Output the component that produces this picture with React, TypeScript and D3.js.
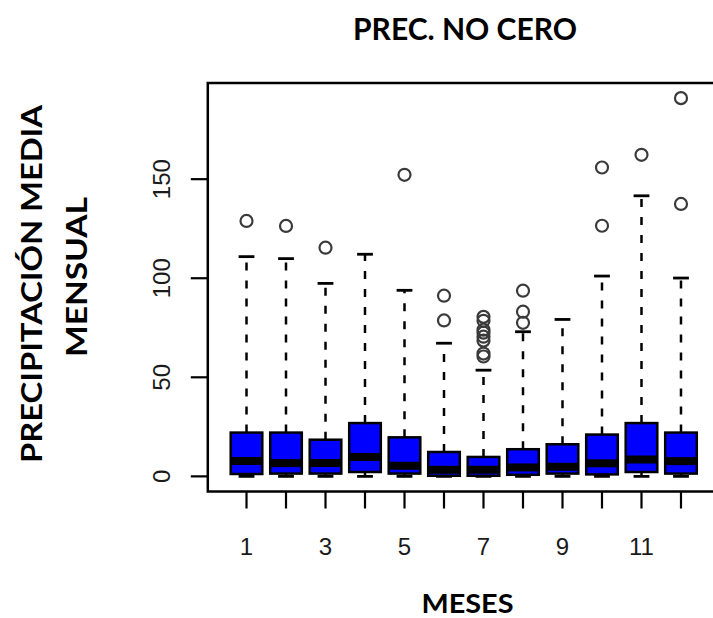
import React from "react";
import * as d3 from "d3";

const months = [1, 2, 3, 4, 5, 6, 7, 8, 9, 10, 11, 12];
const whiskerLow = [0, 0, 0, 0, 0, 0, 0, 0, 0, 0, 0, 0];
const q1 = [1.2, 1.4, 1.4, 2.2, 1.4, 0.3, 0.3, 0.8, 1.4, 1.0, 2.2, 1.4];
const medians = [7.7, 6.7, 6.7, 9.8, 5.3, 3.3, 3.3, 4.5, 4.9, 6.6, 8.5, 7.7];
const q3 = [22.1, 22.1, 18.5, 26.9, 19.7, 12.3, 9.8, 13.7, 16.2, 21.1, 26.9, 22.1];
const whiskerHigh = [110.9, 109.9, 97.4, 112.1, 93.9, 67.2, 53.6, 73.0, 79.2, 101.1, 141.6, 100.1];
const outliers: number[][] = [
  [128.9],
  [126.4],
  [115.4],
  [],
  [152.2],
  [91.2, 78.7],
  [80.5, 78.5, 74, 72.5, 70.5, 68.5, 62, 60.5],
  [93.7, 83.1, 77.5],
  [],
  [155.9, 126.5],
  [162.3],
  [190.9, 137.5],
];
const yTicks = [0, 50, 100, 150];
const xTickLabels = ["1", "", "3", "", "5", "", "7", "", "9", "", "11", ""];

const W = 713;
const H = 618;
const left = 207.8;
const right = 719.7;
const top = 83;
const bottom = 491.5;

export default function App() {
  const n = months.length;
  const xPad = 0.04 * n;
  const x = d3.scaleLinear().domain([0.5 - xPad, n + 0.5 + xPad]).range([left, right]);
  const allVals = [...whiskerLow, ...whiskerHigh, ...outliers.flat()];
  const yMin = d3.min(allVals)!;
  const yMax = d3.max(allVals)!;
  const pad = 0.04 * (yMax - yMin);
  const y = d3.scaleLinear().domain([yMin - pad, yMax + pad]).range([bottom, top]);
  const boxW = 0.8 * (x(2) - x(1));
  const stapleW = boxW * 0.5;
  const tickLen = 17;

  return (
    <svg width={W} height={H} style={{ position: "absolute", left: 0, top: 0, background: "#fff" }}>
      <rect x={0} y={0} width={W} height={H} fill="#fff" />
      {/* title */}
      <text
        x={465}
        y={40}
        textAnchor="middle"
        fontFamily="Lato, 'Open Sans', sans-serif"
        fontWeight={700}
        fontSize={30}
        textLength={224}
        lengthAdjust="spacingAndGlyphs"
        fill="#000"
      >
        PREC. NO CERO
      </text>
      {/* boxes */}
      {months.map((m, i) => {
        const cx = x(m);
        return (
          <g key={m}>
            <line x1={cx} x2={cx} y1={y(q3[i])} y2={y(whiskerHigh[i])} stroke="#000" strokeWidth={2.5} strokeDasharray="8,10" />
            <line x1={cx} x2={cx} y1={y(q1[i])} y2={y(whiskerLow[i])} stroke="#000" strokeWidth={2.5} strokeDasharray="8,10" />
            <line x1={cx - stapleW / 2} x2={cx + stapleW / 2} y1={y(whiskerHigh[i])} y2={y(whiskerHigh[i])} stroke="#000" strokeWidth={2.8} />
            <line x1={cx - stapleW / 2} x2={cx + stapleW / 2} y1={y(whiskerLow[i])} y2={y(whiskerLow[i])} stroke="#000" strokeWidth={2.8} />
            <rect
              x={cx - boxW / 2}
              y={y(q3[i])}
              width={boxW}
              height={y(q1[i]) - y(q3[i])}
              fill="#0000ff"
              stroke="#000"
              strokeWidth={2.5}
            />
            <line x1={cx - boxW / 2} x2={cx + boxW / 2} y1={y(medians[i])} y2={y(medians[i])} stroke="#000" strokeWidth={8} />
            {outliers[i].map((v, j) => (
              <circle key={j} cx={cx} cy={y(v)} r={6} fill="none" stroke="#3a3a3a" strokeWidth={2.2} />
            ))}
          </g>
        );
      })}
      {/* frame */}
      <rect x={left} y={top} width={right - left} height={bottom - top} fill="none" stroke="#000" strokeWidth={2.5} />
      {/* y axis */}
      {yTicks.map((t) => (
        <g key={t}>
          <line x1={left - tickLen} x2={left} y1={y(t)} y2={y(t)} stroke="#000" strokeWidth={2.2} />
          <text
            transform={`translate(170,${y(t)}) rotate(-90)`}
            textAnchor="middle"
            fontFamily="'Liberation Sans', Arial, sans-serif"
            fontSize={24}
            fill="#1a1a1a"
          >
            {t}
          </text>
        </g>
      ))}
      {/* x axis */}
      {months.map((m, i) => (
        <g key={m}>
          <line x1={x(m)} x2={x(m)} y1={bottom} y2={bottom + tickLen} stroke="#000" strokeWidth={2.2} />
          {xTickLabels[i] && (
            <text x={x(m)} y={555} textAnchor="middle" fontFamily="'Liberation Sans', Arial, sans-serif" fontSize={24} fill="#1a1a1a">
              {xTickLabels[i]}
            </text>
          )}
        </g>
      ))}
      {/* axis labels */}
      <text
        x={467.5}
        y={613}
        textAnchor="middle"
        fontFamily="Lato, 'Open Sans', sans-serif"
        fontWeight={700}
        fontSize={27}
        textLength={92}
        lengthAdjust="spacingAndGlyphs"
        fill="#000"
      >
        MESES
      </text>
      <text
        transform={`translate(41.7,284) rotate(-90)`}
        textAnchor="middle"
        fontFamily="Lato, 'Open Sans', sans-serif"
        fontWeight={700}
        fontSize={29}
        textLength={358}
        lengthAdjust="spacingAndGlyphs"
        fill="#000"
      >
        PRECIPITACIÓN MEDIA
      </text>
      <text
        transform={`translate(87,277) rotate(-90)`}
        textAnchor="middle"
        fontFamily="Lato, 'Open Sans', sans-serif"
        fontWeight={700}
        fontSize={29}
        textLength={160}
        lengthAdjust="spacingAndGlyphs"
        fill="#000"
      >
        MENSUAL
      </text>
    </svg>
  );
}
